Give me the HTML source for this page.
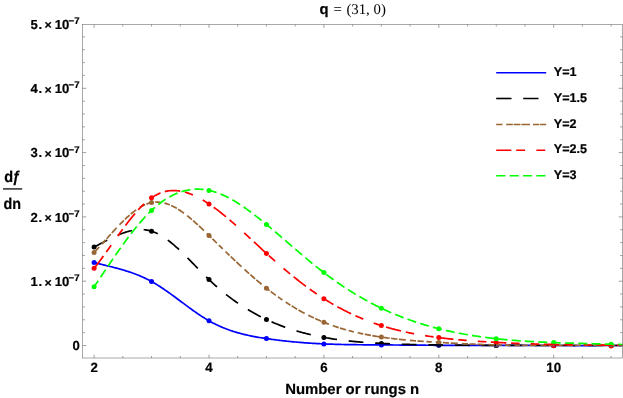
<!DOCTYPE html>
<html><head><meta charset="utf-8"><title>plot</title>
<style>
html,body{margin:0;padding:0;background:#fff;}
body{width:623px;height:398px;overflow:hidden;font-family:"Liberation Sans",sans-serif;}
svg{display:block;position:absolute;left:0;top:0;}
text{font-family:"Liberation Sans",sans-serif;font-weight:bold;fill:#000;text-rendering:geometricPrecision;stroke:#000;stroke-width:0.2px;}
.ser{font-family:"Liberation Serif",serif;font-weight:normal;stroke:none;}
</style></head><body>
<svg width="623" height="398" viewBox="0 0 623 398">
<rect x="0" y="0" width="623" height="398" fill="#fff"/>

<g fill="#0000ff">
<circle cx="94.10" cy="262.50" r="2.5"/>
<circle cx="151.55" cy="281.50" r="2.5"/>
<circle cx="209.00" cy="320.80" r="2.5"/>
<circle cx="266.45" cy="338.60" r="2.5"/>
<circle cx="323.90" cy="343.90" r="2.5"/>
<circle cx="381.35" cy="344.90" r="2.5"/>
<circle cx="438.80" cy="345.30" r="2.5"/>
<circle cx="496.25" cy="345.40" r="2.5"/>
<circle cx="553.70" cy="345.50" r="2.5"/>
<circle cx="611.15" cy="345.50" r="2.5"/>
</g>
<g fill="#000000">
<circle cx="94.10" cy="247.00" r="2.5"/>
<circle cx="151.55" cy="231.20" r="2.5"/>
<circle cx="209.00" cy="279.60" r="2.5"/>
<circle cx="266.45" cy="319.50" r="2.5"/>
<circle cx="323.90" cy="337.40" r="2.5"/>
<circle cx="381.35" cy="343.40" r="2.5"/>
<circle cx="438.80" cy="345.00" r="2.5"/>
<circle cx="496.25" cy="345.40" r="2.5"/>
<circle cx="553.70" cy="345.50" r="2.5"/>
<circle cx="611.15" cy="345.50" r="2.5"/>
</g>
<g fill="#996633">
<circle cx="94.10" cy="252.50" r="2.5"/>
<circle cx="151.55" cy="202.60" r="2.5"/>
<circle cx="209.00" cy="235.50" r="2.5"/>
<circle cx="266.45" cy="288.20" r="2.5"/>
<circle cx="323.90" cy="322.30" r="2.5"/>
<circle cx="381.35" cy="337.10" r="2.5"/>
<circle cx="438.80" cy="342.40" r="2.5"/>
<circle cx="496.25" cy="344.90" r="2.5"/>
<circle cx="553.70" cy="345.30" r="2.5"/>
<circle cx="611.15" cy="345.40" r="2.5"/>
</g>
<g fill="#ff0000">
<circle cx="94.10" cy="268.30" r="2.5"/>
<circle cx="151.55" cy="197.80" r="2.5"/>
<circle cx="209.00" cy="204.00" r="2.5"/>
<circle cx="266.45" cy="253.40" r="2.5"/>
<circle cx="323.90" cy="298.70" r="2.5"/>
<circle cx="381.35" cy="325.60" r="2.5"/>
<circle cx="438.80" cy="337.60" r="2.5"/>
<circle cx="496.25" cy="342.40" r="2.5"/>
<circle cx="553.70" cy="345.80" r="2.5"/>
<circle cx="611.15" cy="346.10" r="2.5"/>
</g>
<g fill="#00ff00">
<circle cx="94.10" cy="286.80" r="2.5"/>
<circle cx="151.55" cy="210.40" r="2.5"/>
<circle cx="209.00" cy="190.40" r="2.5"/>
<circle cx="266.45" cy="224.50" r="2.5"/>
<circle cx="323.90" cy="272.60" r="2.5"/>
<circle cx="381.35" cy="308.20" r="2.5"/>
<circle cx="438.80" cy="328.70" r="2.5"/>
<circle cx="496.25" cy="338.70" r="2.5"/>
<circle cx="553.70" cy="342.60" r="2.5"/>
<circle cx="611.15" cy="344.20" r="2.5"/>
</g>
<g fill="none" stroke-width="1.7" stroke-linejoin="round">
<path d="M94.10,262.50 L95.42,262.84 L96.75,263.18 L98.07,263.52 L99.40,263.85 L100.72,264.18 L102.05,264.51 L103.37,264.83 L104.69,265.16 L106.02,265.48 L107.34,265.81 L108.67,266.14 L109.99,266.47 L111.32,266.80 L112.64,267.14 L113.96,267.48 L115.29,267.82 L116.61,268.17 L117.94,268.53 L119.26,268.89 L120.59,269.26 L121.91,269.63 L123.23,270.02 L124.56,270.42 L125.88,270.82 L127.21,271.23 L128.53,271.66 L129.86,272.10 L131.18,272.55 L132.51,273.01 L133.83,273.49 L135.15,273.98 L136.48,274.49 L137.80,275.01 L139.13,275.55 L140.45,276.10 L141.78,276.67 L143.10,277.26 L144.42,277.87 L145.75,278.50 L147.07,279.15 L148.40,279.82 L149.72,280.51 L151.05,281.22 L152.37,281.96 L153.69,282.72 L155.02,283.49 L156.34,284.29 L157.67,285.11 L158.99,285.95 L160.32,286.80 L161.64,287.67 L162.96,288.56 L164.29,289.46 L165.61,290.37 L166.94,291.29 L168.26,292.23 L169.59,293.17 L170.91,294.12 L172.23,295.09 L173.56,296.05 L174.88,297.03 L176.21,298.01 L177.53,298.99 L178.86,299.97 L180.18,300.96 L181.50,301.95 L182.83,302.93 L184.15,303.92 L185.48,304.90 L186.80,305.88 L188.13,306.85 L189.45,307.82 L190.77,308.79 L192.10,309.74 L193.42,310.69 L194.75,311.62 L196.07,312.55 L197.40,313.46 L198.72,314.36 L200.04,315.25 L201.37,316.12 L202.69,316.98 L204.02,317.81 L205.34,318.63 L206.67,319.44 L207.99,320.22 L209.32,320.98 L210.64,321.72 L211.96,322.44 L213.29,323.13 L214.61,323.81 L215.94,324.46 L217.26,325.10 L218.59,325.72 L219.91,326.31 L221.23,326.89 L222.56,327.46 L223.88,328.00 L225.21,328.53 L226.53,329.04 L227.86,329.53 L229.18,330.01 L230.50,330.47 L231.83,330.91 L233.15,331.35 L234.48,331.76 L235.80,332.17 L237.13,332.56 L238.45,332.93 L239.77,333.30 L241.10,333.65 L242.42,333.99 L243.75,334.32 L245.07,334.64 L246.40,334.95 L247.72,335.24 L249.04,335.53 L250.37,335.81 L251.69,336.08 L253.02,336.34 L254.34,336.59 L255.67,336.84 L256.99,337.08 L258.31,337.31 L259.64,337.53 L260.96,337.75 L262.29,337.96 L263.61,338.17 L264.94,338.37 L266.26,338.57 L267.58,338.77 L268.91,338.96 L270.23,339.14 L271.56,339.33 L272.88,339.51 L274.21,339.68 L275.53,339.86 L276.85,340.02 L278.18,340.19 L279.50,340.35 L280.83,340.51 L282.15,340.66 L283.48,340.81 L284.80,340.96 L286.13,341.11 L287.45,341.25 L288.77,341.38 L290.10,341.52 L291.42,341.65 L292.75,341.78 L294.07,341.90 L295.40,342.02 L296.72,342.14 L298.04,342.25 L299.37,342.36 L300.69,342.47 L302.02,342.58 L303.34,342.68 L304.67,342.78 L305.99,342.87 L307.31,342.97 L308.64,343.06 L309.96,343.15 L311.29,343.23 L312.61,343.31 L313.94,343.39 L315.26,343.47 L316.58,343.54 L317.91,343.61 L319.23,343.68 L320.56,343.75 L321.88,343.81 L323.21,343.87 L324.53,343.93 L325.85,343.98 L327.18,344.04 L328.50,344.09 L329.83,344.13 L331.15,344.18 L332.48,344.22 L333.80,344.27 L335.12,344.31 L336.45,344.34 L337.77,344.38 L339.10,344.41 L340.42,344.45 L341.75,344.48 L343.07,344.51 L344.39,344.53 L345.72,344.56 L347.04,344.58 L348.37,344.60 L349.69,344.63 L351.02,344.65 L352.34,344.67 L353.66,344.68 L354.99,344.70 L356.31,344.72 L357.64,344.73 L358.96,344.74 L360.29,344.76 L361.61,344.77 L362.94,344.78 L364.26,344.79 L365.58,344.80 L366.91,344.81 L368.23,344.82 L369.56,344.83 L370.88,344.84 L372.21,344.85 L373.53,344.85 L374.85,344.86 L376.18,344.87 L377.50,344.88 L378.83,344.88 L380.15,344.89 L381.48,344.90 L382.80,344.91 L384.12,344.92 L385.45,344.93 L386.77,344.94 L388.10,344.94 L389.42,344.95 L390.75,344.96 L392.07,344.97 L393.39,344.98 L394.72,344.99 L396.04,345.00 L397.37,345.01 L398.69,345.02 L400.02,345.03 L401.34,345.04 L402.66,345.05 L403.99,345.06 L405.31,345.07 L406.64,345.08 L407.96,345.09 L409.29,345.10 L410.61,345.11 L411.93,345.12 L413.26,345.13 L414.58,345.14 L415.91,345.15 L417.23,345.16 L418.56,345.17 L419.88,345.18 L421.20,345.19 L422.53,345.20 L423.85,345.21 L425.18,345.22 L426.50,345.23 L427.83,345.24 L429.15,345.25 L430.47,345.25 L431.80,345.26 L433.12,345.27 L434.45,345.28 L435.77,345.28 L437.10,345.29 L438.42,345.30 L439.75,345.30 L441.07,345.31 L442.39,345.32 L443.72,345.32 L445.04,345.33 L446.37,345.33 L447.69,345.34 L449.02,345.34 L450.34,345.34 L451.66,345.35 L452.99,345.35 L454.31,345.35 L455.64,345.36 L456.96,345.36 L458.29,345.36 L459.61,345.37 L460.93,345.37 L462.26,345.37 L463.58,345.37 L464.91,345.37 L466.23,345.38 L467.56,345.38 L468.88,345.38 L470.20,345.38 L471.53,345.38 L472.85,345.38 L474.18,345.38 L475.50,345.38 L476.83,345.39 L478.15,345.39 L479.47,345.39 L480.80,345.39 L482.12,345.39 L483.45,345.39 L484.77,345.39 L486.10,345.39 L487.42,345.39 L488.74,345.39 L490.07,345.39 L491.39,345.40 L492.72,345.40 L494.04,345.40 L495.37,345.40 L496.69,345.40 L498.01,345.40 L499.34,345.40 L500.66,345.40 L501.99,345.41 L503.31,345.41 L504.64,345.41 L505.96,345.41 L507.28,345.41 L508.61,345.42 L509.93,345.42 L511.26,345.42 L512.58,345.42 L513.91,345.42 L515.23,345.43 L516.56,345.43 L517.88,345.43 L519.20,345.43 L520.53,345.44 L521.85,345.44 L523.18,345.44 L524.50,345.44 L525.83,345.45 L527.15,345.45 L528.47,345.45 L529.80,345.45 L531.12,345.46 L532.45,345.46 L533.77,345.46 L535.10,345.47 L536.42,345.47 L537.74,345.47 L539.07,345.47 L540.39,345.48 L541.72,345.48 L543.04,345.48 L544.37,345.48 L545.69,345.49 L547.01,345.49 L548.34,345.49 L549.66,345.49 L550.99,345.50 L552.31,345.50 L553.64,345.50 L554.96,345.50 L556.28,345.50 L557.61,345.51 L558.93,345.51 L560.26,345.51 L561.58,345.51 L562.91,345.51 L564.23,345.52 L565.55,345.52 L566.88,345.52 L568.20,345.52 L569.53,345.52 L570.85,345.52 L572.18,345.52 L573.50,345.53 L574.82,345.53 L576.15,345.53 L577.47,345.53 L578.80,345.53 L580.12,345.53 L581.45,345.53 L582.77,345.53 L584.09,345.53 L585.42,345.53 L586.74,345.53 L588.07,345.53 L589.39,345.53 L590.72,345.53 L592.04,345.53 L593.37,345.53 L594.69,345.53 L596.01,345.53 L597.34,345.52 L598.66,345.52 L599.99,345.52 L601.31,345.52 L602.64,345.52 L603.96,345.51 L605.28,345.51 L606.61,345.51 L607.93,345.51 L609.26,345.50 L610.58,345.50 L611.91,345.50 L613.23,345.49 L614.55,345.49 L615.88,345.49 L617.20,345.48 L618.53,345.48 L619.85,345.47 L621.18,345.47 L622.50,345.46" stroke="#0000ff"/>
<path d="M94.10,247.00 L95.42,246.32 L96.75,245.64 L98.07,244.95 L99.40,244.26 L100.72,243.57 L102.05,242.88 L103.37,242.19 L104.69,241.51 L106.02,240.82 L107.34,240.15 L108.67,239.48 L109.99,238.82 L111.32,238.17 L112.64,237.53 L113.96,236.91 L115.29,236.30 L116.61,235.71 L117.94,235.14 L119.26,234.58 L120.59,234.05 L121.91,233.54 L123.23,233.05 L124.56,232.59 L125.88,232.16 L127.21,231.75 L128.53,231.38 L129.86,231.03 L131.18,230.72 L132.51,230.45 L133.83,230.21 L135.15,230.00 L136.48,229.84 L137.80,229.72 L139.13,229.64 L140.45,229.60 L141.78,229.61 L143.10,229.66 L144.42,229.76 L145.75,229.91 L147.07,230.12 L148.40,230.37 L149.72,230.68 L151.05,231.05 L152.37,231.47 L153.69,231.95 L155.02,232.48 L156.34,233.07 L157.67,233.70 L158.99,234.39 L160.32,235.12 L161.64,235.91 L162.96,236.73 L164.29,237.60 L165.61,238.51 L166.94,239.45 L168.26,240.44 L169.59,241.46 L170.91,242.51 L172.23,243.60 L173.56,244.71 L174.88,245.86 L176.21,247.03 L177.53,248.23 L178.86,249.45 L180.18,250.69 L181.50,251.95 L182.83,253.23 L184.15,254.52 L185.48,255.83 L186.80,257.16 L188.13,258.49 L189.45,259.83 L190.77,261.18 L192.10,262.54 L193.42,263.90 L194.75,265.26 L196.07,266.63 L197.40,267.99 L198.72,269.35 L200.04,270.70 L201.37,272.05 L202.69,273.39 L204.02,274.72 L205.34,276.04 L206.67,277.34 L207.99,278.63 L209.32,279.90 L210.64,281.15 L211.96,282.39 L213.29,283.61 L214.61,284.81 L215.94,285.99 L217.26,287.15 L218.59,288.30 L219.91,289.43 L221.23,290.55 L222.56,291.64 L223.88,292.72 L225.21,293.79 L226.53,294.83 L227.86,295.86 L229.18,296.88 L230.50,297.88 L231.83,298.86 L233.15,299.83 L234.48,300.78 L235.80,301.71 L237.13,302.64 L238.45,303.54 L239.77,304.43 L241.10,305.31 L242.42,306.17 L243.75,307.02 L245.07,307.86 L246.40,308.68 L247.72,309.48 L249.04,310.28 L250.37,311.06 L251.69,311.82 L253.02,312.57 L254.34,313.31 L255.67,314.04 L256.99,314.75 L258.31,315.46 L259.64,316.15 L260.96,316.82 L262.29,317.49 L263.61,318.14 L264.94,318.78 L266.26,319.41 L267.58,320.03 L268.91,320.64 L270.23,321.23 L271.56,321.82 L272.88,322.39 L274.21,322.95 L275.53,323.50 L276.85,324.05 L278.18,324.58 L279.50,325.10 L280.83,325.61 L282.15,326.11 L283.48,326.60 L284.80,327.08 L286.13,327.55 L287.45,328.01 L288.77,328.46 L290.10,328.91 L291.42,329.34 L292.75,329.76 L294.07,330.18 L295.40,330.58 L296.72,330.98 L298.04,331.37 L299.37,331.75 L300.69,332.12 L302.02,332.49 L303.34,332.84 L304.67,333.19 L305.99,333.53 L307.31,333.86 L308.64,334.18 L309.96,334.50 L311.29,334.81 L312.61,335.11 L313.94,335.40 L315.26,335.69 L316.58,335.97 L317.91,336.25 L319.23,336.51 L320.56,336.77 L321.88,337.03 L323.21,337.27 L324.53,337.51 L325.85,337.75 L327.18,337.98 L328.50,338.20 L329.83,338.42 L331.15,338.63 L332.48,338.84 L333.80,339.04 L335.12,339.23 L336.45,339.42 L337.77,339.60 L339.10,339.78 L340.42,339.96 L341.75,340.13 L343.07,340.29 L344.39,340.45 L345.72,340.61 L347.04,340.76 L348.37,340.90 L349.69,341.04 L351.02,341.18 L352.34,341.31 L353.66,341.44 L354.99,341.57 L356.31,341.69 L357.64,341.81 L358.96,341.92 L360.29,342.03 L361.61,342.14 L362.94,342.25 L364.26,342.35 L365.58,342.44 L366.91,342.54 L368.23,342.63 L369.56,342.72 L370.88,342.80 L372.21,342.89 L373.53,342.97 L374.85,343.05 L376.18,343.12 L377.50,343.20 L378.83,343.27 L380.15,343.34 L381.48,343.41 L382.80,343.47 L384.12,343.54 L385.45,343.60 L386.77,343.66 L388.10,343.72 L389.42,343.78 L390.75,343.83 L392.07,343.88 L393.39,343.94 L394.72,343.99 L396.04,344.04 L397.37,344.08 L398.69,344.13 L400.02,344.18 L401.34,344.22 L402.66,344.26 L403.99,344.30 L405.31,344.34 L406.64,344.38 L407.96,344.42 L409.29,344.45 L410.61,344.49 L411.93,344.52 L413.26,344.55 L414.58,344.58 L415.91,344.61 L417.23,344.64 L418.56,344.67 L419.88,344.70 L421.20,344.72 L422.53,344.75 L423.85,344.77 L425.18,344.80 L426.50,344.82 L427.83,344.84 L429.15,344.86 L430.47,344.88 L431.80,344.90 L433.12,344.92 L434.45,344.94 L435.77,344.96 L437.10,344.98 L438.42,345.00 L439.75,345.01 L441.07,345.03 L442.39,345.04 L443.72,345.06 L445.04,345.07 L446.37,345.09 L447.69,345.10 L449.02,345.12 L450.34,345.13 L451.66,345.14 L452.99,345.15 L454.31,345.17 L455.64,345.18 L456.96,345.19 L458.29,345.20 L459.61,345.21 L460.93,345.22 L462.26,345.23 L463.58,345.24 L464.91,345.25 L466.23,345.26 L467.56,345.27 L468.88,345.28 L470.20,345.28 L471.53,345.29 L472.85,345.30 L474.18,345.31 L475.50,345.31 L476.83,345.32 L478.15,345.33 L479.47,345.33 L480.80,345.34 L482.12,345.35 L483.45,345.35 L484.77,345.36 L486.10,345.36 L487.42,345.37 L488.74,345.37 L490.07,345.38 L491.39,345.38 L492.72,345.39 L494.04,345.39 L495.37,345.40 L496.69,345.40 L498.01,345.41 L499.34,345.41 L500.66,345.41 L501.99,345.42 L503.31,345.42 L504.64,345.42 L505.96,345.43 L507.28,345.43 L508.61,345.44 L509.93,345.44 L511.26,345.44 L512.58,345.44 L513.91,345.45 L515.23,345.45 L516.56,345.45 L517.88,345.46 L519.20,345.46 L520.53,345.46 L521.85,345.46 L523.18,345.47 L524.50,345.47 L525.83,345.47 L527.15,345.47 L528.47,345.47 L529.80,345.48 L531.12,345.48 L532.45,345.48 L533.77,345.48 L535.10,345.48 L536.42,345.49 L537.74,345.49 L539.07,345.49 L540.39,345.49 L541.72,345.49 L543.04,345.49 L544.37,345.49 L545.69,345.49 L547.01,345.50 L548.34,345.50 L549.66,345.50 L550.99,345.50 L552.31,345.50 L553.64,345.50 L554.96,345.50 L556.28,345.50 L557.61,345.50 L558.93,345.50 L560.26,345.50 L561.58,345.50 L562.91,345.50 L564.23,345.50 L565.55,345.50 L566.88,345.51 L568.20,345.51 L569.53,345.51 L570.85,345.51 L572.18,345.51 L573.50,345.51 L574.82,345.51 L576.15,345.51 L577.47,345.51 L578.80,345.51 L580.12,345.51 L581.45,345.51 L582.77,345.51 L584.09,345.51 L585.42,345.51 L586.74,345.51 L588.07,345.51 L589.39,345.51 L590.72,345.50 L592.04,345.50 L593.37,345.50 L594.69,345.50 L596.01,345.50 L597.34,345.50 L598.66,345.50 L599.99,345.50 L601.31,345.50 L602.64,345.50 L603.96,345.50 L605.28,345.50 L606.61,345.50 L607.93,345.50 L609.26,345.50 L610.58,345.50 L611.91,345.50 L613.23,345.50 L614.55,345.50 L615.88,345.50 L617.20,345.50 L618.53,345.50 L619.85,345.50 L621.18,345.50 L622.50,345.50" stroke="#000000" stroke-dasharray="14.8 11.8"/>
<path d="M94.10,252.50 L95.42,251.09 L96.75,249.67 L98.07,248.23 L99.40,246.78 L100.72,245.32 L102.05,243.86 L103.37,242.38 L104.69,240.91 L106.02,239.43 L107.34,237.95 L108.67,236.48 L109.99,235.01 L111.32,233.54 L112.64,232.09 L113.96,230.64 L115.29,229.21 L116.61,227.79 L117.94,226.39 L119.26,225.01 L120.59,223.65 L121.91,222.31 L123.23,221.00 L124.56,219.71 L125.88,218.45 L127.21,217.22 L128.53,216.03 L129.86,214.87 L131.18,213.74 L132.51,212.66 L133.83,211.62 L135.15,210.62 L136.48,209.66 L137.80,208.75 L139.13,207.89 L140.45,207.09 L141.78,206.33 L143.10,205.63 L144.42,204.99 L145.75,204.41 L147.07,203.88 L148.40,203.43 L149.72,203.03 L151.05,202.71 L152.37,202.45 L153.69,202.26 L155.02,202.14 L156.34,202.09 L157.67,202.10 L158.99,202.17 L160.32,202.30 L161.64,202.50 L162.96,202.75 L164.29,203.06 L165.61,203.42 L166.94,203.84 L168.26,204.30 L169.59,204.82 L170.91,205.39 L172.23,206.00 L173.56,206.66 L174.88,207.36 L176.21,208.11 L177.53,208.89 L178.86,209.72 L180.18,210.58 L181.50,211.48 L182.83,212.41 L184.15,213.38 L185.48,214.37 L186.80,215.40 L188.13,216.45 L189.45,217.53 L190.77,218.63 L192.10,219.76 L193.42,220.91 L194.75,222.08 L196.07,223.27 L197.40,224.47 L198.72,225.69 L200.04,226.92 L201.37,228.17 L202.69,229.43 L204.02,230.69 L205.34,231.96 L206.67,233.24 L207.99,234.52 L209.32,235.81 L210.64,237.09 L211.96,238.38 L213.29,239.67 L214.61,240.95 L215.94,242.24 L217.26,243.53 L218.59,244.81 L219.91,246.10 L221.23,247.39 L222.56,248.67 L223.88,249.95 L225.21,251.23 L226.53,252.50 L227.86,253.78 L229.18,255.05 L230.50,256.31 L231.83,257.58 L233.15,258.84 L234.48,260.09 L235.80,261.34 L237.13,262.59 L238.45,263.83 L239.77,265.06 L241.10,266.29 L242.42,267.51 L243.75,268.72 L245.07,269.93 L246.40,271.13 L247.72,272.32 L249.04,273.51 L250.37,274.69 L251.69,275.85 L253.02,277.01 L254.34,278.16 L255.67,279.30 L256.99,280.43 L258.31,281.56 L259.64,282.67 L260.96,283.77 L262.29,284.85 L263.61,285.93 L264.94,287.00 L266.26,288.05 L267.58,289.09 L268.91,290.12 L270.23,291.14 L271.56,292.14 L272.88,293.13 L274.21,294.11 L275.53,295.08 L276.85,296.04 L278.18,296.98 L279.50,297.91 L280.83,298.83 L282.15,299.73 L283.48,300.63 L284.80,301.51 L286.13,302.38 L287.45,303.24 L288.77,304.09 L290.10,304.92 L291.42,305.75 L292.75,306.56 L294.07,307.36 L295.40,308.15 L296.72,308.92 L298.04,309.69 L299.37,310.44 L300.69,311.18 L302.02,311.91 L303.34,312.63 L304.67,313.33 L305.99,314.03 L307.31,314.71 L308.64,315.38 L309.96,316.04 L311.29,316.69 L312.61,317.33 L313.94,317.95 L315.26,318.57 L316.58,319.17 L317.91,319.76 L319.23,320.34 L320.56,320.91 L321.88,321.47 L323.21,322.02 L324.53,322.55 L325.85,323.08 L327.18,323.59 L328.50,324.10 L329.83,324.59 L331.15,325.07 L332.48,325.54 L333.80,326.00 L335.12,326.45 L336.45,326.90 L337.77,327.33 L339.10,327.75 L340.42,328.16 L341.75,328.57 L343.07,328.96 L344.39,329.35 L345.72,329.72 L347.04,330.09 L348.37,330.45 L349.69,330.80 L351.02,331.15 L352.34,331.48 L353.66,331.81 L354.99,332.13 L356.31,332.44 L357.64,332.74 L358.96,333.04 L360.29,333.33 L361.61,333.61 L362.94,333.89 L364.26,334.16 L365.58,334.42 L366.91,334.68 L368.23,334.93 L369.56,335.17 L370.88,335.41 L372.21,335.64 L373.53,335.87 L374.85,336.09 L376.18,336.31 L377.50,336.52 L378.83,336.72 L380.15,336.92 L381.48,337.12 L382.80,337.31 L384.12,337.50 L385.45,337.68 L386.77,337.86 L388.10,338.03 L389.42,338.20 L390.75,338.37 L392.07,338.53 L393.39,338.68 L394.72,338.84 L396.04,338.99 L397.37,339.14 L398.69,339.28 L400.02,339.42 L401.34,339.55 L402.66,339.69 L403.99,339.82 L405.31,339.94 L406.64,340.07 L407.96,340.19 L409.29,340.31 L410.61,340.42 L411.93,340.54 L413.26,340.65 L414.58,340.75 L415.91,340.86 L417.23,340.96 L418.56,341.06 L419.88,341.16 L421.20,341.26 L422.53,341.35 L423.85,341.45 L425.18,341.54 L426.50,341.63 L427.83,341.72 L429.15,341.80 L430.47,341.89 L431.80,341.97 L433.12,342.06 L434.45,342.14 L435.77,342.22 L437.10,342.30 L438.42,342.38 L439.75,342.46 L441.07,342.53 L442.39,342.61 L443.72,342.69 L445.04,342.76 L446.37,342.84 L447.69,342.91 L449.02,342.98 L450.34,343.05 L451.66,343.13 L452.99,343.20 L454.31,343.27 L455.64,343.33 L456.96,343.40 L458.29,343.47 L459.61,343.53 L460.93,343.60 L462.26,343.66 L463.58,343.73 L464.91,343.79 L466.23,343.85 L467.56,343.91 L468.88,343.97 L470.20,344.02 L471.53,344.08 L472.85,344.13 L474.18,344.19 L475.50,344.24 L476.83,344.29 L478.15,344.34 L479.47,344.39 L480.80,344.44 L482.12,344.49 L483.45,344.53 L484.77,344.57 L486.10,344.62 L487.42,344.66 L488.74,344.70 L490.07,344.74 L491.39,344.78 L492.72,344.81 L494.04,344.85 L495.37,344.88 L496.69,344.91 L498.01,344.94 L499.34,344.97 L500.66,345.00 L501.99,345.02 L503.31,345.05 L504.64,345.07 L505.96,345.09 L507.28,345.11 L508.61,345.13 L509.93,345.15 L511.26,345.17 L512.58,345.19 L513.91,345.20 L515.23,345.22 L516.56,345.23 L517.88,345.24 L519.20,345.25 L520.53,345.26 L521.85,345.27 L523.18,345.28 L524.50,345.29 L525.83,345.29 L527.15,345.30 L528.47,345.31 L529.80,345.31 L531.12,345.31 L532.45,345.32 L533.77,345.32 L535.10,345.32 L536.42,345.32 L537.74,345.32 L539.07,345.32 L540.39,345.32 L541.72,345.32 L543.04,345.32 L544.37,345.32 L545.69,345.32 L547.01,345.32 L548.34,345.31 L549.66,345.31 L550.99,345.31 L552.31,345.30 L553.64,345.30 L554.96,345.30 L556.28,345.29 L557.61,345.29 L558.93,345.28 L560.26,345.28 L561.58,345.28 L562.91,345.27 L564.23,345.27 L565.55,345.26 L566.88,345.26 L568.20,345.26 L569.53,345.25 L570.85,345.25 L572.18,345.25 L573.50,345.24 L574.82,345.24 L576.15,345.24 L577.47,345.24 L578.80,345.24 L580.12,345.24 L581.45,345.24 L582.77,345.24 L584.09,345.24 L585.42,345.24 L586.74,345.24 L588.07,345.24 L589.39,345.24 L590.72,345.25 L592.04,345.25 L593.37,345.25 L594.69,345.26 L596.01,345.27 L597.34,345.27 L598.66,345.28 L599.99,345.29 L601.31,345.30 L602.64,345.31 L603.96,345.32 L605.28,345.33 L606.61,345.35 L607.93,345.36 L609.26,345.38 L610.58,345.39 L611.91,345.41 L613.23,345.43 L614.55,345.45 L615.88,345.47 L617.20,345.49 L618.53,345.52 L619.85,345.54 L621.18,345.57 L622.50,345.60" stroke="#996633" stroke-dasharray="5.4 3.9 5.7 1.5 6.3 1.5 7.1 4.1 6.2 1.5 6.4 1.5 6.9 4.1 6.2 1.4 6.3 2.7" stroke-dashoffset="76.6"/>
<path d="M94.10,268.30 L95.42,266.62 L96.75,264.92 L98.07,263.19 L99.40,261.43 L100.72,259.66 L102.05,257.87 L103.37,256.06 L104.69,254.24 L106.02,252.40 L107.34,250.56 L108.67,248.71 L109.99,246.85 L111.32,244.99 L112.64,243.13 L113.96,241.27 L115.29,239.41 L116.61,237.56 L117.94,235.71 L119.26,233.88 L120.59,232.05 L121.91,230.24 L123.23,228.45 L124.56,226.67 L125.88,224.91 L127.21,223.18 L128.53,221.47 L129.86,219.78 L131.18,218.12 L132.51,216.50 L133.83,214.91 L135.15,213.35 L136.48,211.83 L137.80,210.35 L139.13,208.91 L140.45,207.51 L141.78,206.16 L143.10,204.86 L144.42,203.60 L145.75,202.40 L147.07,201.25 L148.40,200.16 L149.72,199.13 L151.05,198.15 L152.37,197.24 L153.69,196.40 L155.02,195.61 L156.34,194.89 L157.67,194.22 L158.99,193.61 L160.32,193.06 L161.64,192.57 L162.96,192.14 L164.29,191.75 L165.61,191.43 L166.94,191.15 L168.26,190.93 L169.59,190.76 L170.91,190.63 L172.23,190.56 L173.56,190.53 L174.88,190.55 L176.21,190.62 L177.53,190.73 L178.86,190.89 L180.18,191.08 L181.50,191.32 L182.83,191.60 L184.15,191.92 L185.48,192.28 L186.80,192.68 L188.13,193.11 L189.45,193.58 L190.77,194.08 L192.10,194.62 L193.42,195.19 L194.75,195.79 L196.07,196.42 L197.40,197.08 L198.72,197.77 L200.04,198.49 L201.37,199.24 L202.69,200.01 L204.02,200.80 L205.34,201.62 L206.67,202.46 L207.99,203.33 L209.32,204.21 L210.64,205.12 L211.96,206.04 L213.29,206.98 L214.61,207.94 L215.94,208.92 L217.26,209.91 L218.59,210.92 L219.91,211.95 L221.23,212.99 L222.56,214.05 L223.88,215.12 L225.21,216.20 L226.53,217.30 L227.86,218.41 L229.18,219.53 L230.50,220.66 L231.83,221.80 L233.15,222.95 L234.48,224.11 L235.80,225.28 L237.13,226.46 L238.45,227.64 L239.77,228.84 L241.10,230.03 L242.42,231.24 L243.75,232.45 L245.07,233.66 L246.40,234.88 L247.72,236.10 L249.04,237.32 L250.37,238.55 L251.69,239.78 L253.02,241.01 L254.34,242.24 L255.67,243.47 L256.99,244.69 L258.31,245.92 L259.64,247.15 L260.96,248.37 L262.29,249.59 L263.61,250.81 L264.94,252.02 L266.26,253.23 L267.58,254.43 L268.91,255.63 L270.23,256.82 L271.56,258.00 L272.88,259.18 L274.21,260.36 L275.53,261.52 L276.85,262.68 L278.18,263.84 L279.50,264.98 L280.83,266.13 L282.15,267.26 L283.48,268.39 L284.80,269.51 L286.13,270.62 L287.45,271.72 L288.77,272.82 L290.10,273.91 L291.42,274.99 L292.75,276.07 L294.07,277.13 L295.40,278.19 L296.72,279.24 L298.04,280.28 L299.37,281.31 L300.69,282.33 L302.02,283.35 L303.34,284.35 L304.67,285.35 L305.99,286.34 L307.31,287.31 L308.64,288.28 L309.96,289.24 L311.29,290.19 L312.61,291.13 L313.94,292.05 L315.26,292.97 L316.58,293.88 L317.91,294.78 L319.23,295.66 L320.56,296.54 L321.88,297.40 L323.21,298.26 L324.53,299.10 L325.85,299.93 L327.18,300.75 L328.50,301.56 L329.83,302.36 L331.15,303.14 L332.48,303.92 L333.80,304.69 L335.12,305.44 L336.45,306.18 L337.77,306.92 L339.10,307.64 L340.42,308.35 L341.75,309.06 L343.07,309.75 L344.39,310.43 L345.72,311.10 L347.04,311.76 L348.37,312.41 L349.69,313.05 L351.02,313.69 L352.34,314.31 L353.66,314.92 L354.99,315.52 L356.31,316.11 L357.64,316.70 L358.96,317.27 L360.29,317.83 L361.61,318.39 L362.94,318.93 L364.26,319.47 L365.58,320.00 L366.91,320.52 L368.23,321.03 L369.56,321.53 L370.88,322.02 L372.21,322.50 L373.53,322.97 L374.85,323.44 L376.18,323.90 L377.50,324.34 L378.83,324.78 L380.15,325.22 L381.48,325.64 L382.80,326.05 L384.12,326.46 L385.45,326.86 L386.77,327.25 L388.10,327.64 L389.42,328.01 L390.75,328.38 L392.07,328.74 L393.39,329.09 L394.72,329.44 L396.04,329.78 L397.37,330.11 L398.69,330.44 L400.02,330.76 L401.34,331.07 L402.66,331.37 L403.99,331.67 L405.31,331.97 L406.64,332.25 L407.96,332.53 L409.29,332.81 L410.61,333.07 L411.93,333.34 L413.26,333.59 L414.58,333.85 L415.91,334.09 L417.23,334.33 L418.56,334.57 L419.88,334.80 L421.20,335.02 L422.53,335.25 L423.85,335.46 L425.18,335.67 L426.50,335.88 L427.83,336.08 L429.15,336.28 L430.47,336.47 L431.80,336.66 L433.12,336.85 L434.45,337.03 L435.77,337.21 L437.10,337.38 L438.42,337.55 L439.75,337.72 L441.07,337.88 L442.39,338.04 L443.72,338.20 L445.04,338.35 L446.37,338.51 L447.69,338.65 L449.02,338.80 L450.34,338.94 L451.66,339.08 L452.99,339.21 L454.31,339.35 L455.64,339.48 L456.96,339.61 L458.29,339.73 L459.61,339.85 L460.93,339.97 L462.26,340.09 L463.58,340.20 L464.91,340.32 L466.23,340.43 L467.56,340.53 L468.88,340.64 L470.20,340.74 L471.53,340.84 L472.85,340.94 L474.18,341.04 L475.50,341.13 L476.83,341.23 L478.15,341.32 L479.47,341.41 L480.80,341.49 L482.12,341.58 L483.45,341.66 L484.77,341.75 L486.10,341.83 L487.42,341.91 L488.74,341.98 L490.07,342.06 L491.39,342.14 L492.72,342.21 L494.04,342.28 L495.37,342.35 L496.69,342.42 L498.01,342.49 L499.34,342.56 L500.66,342.63 L501.99,342.69 L503.31,342.76 L504.64,342.82 L505.96,342.88 L507.28,342.95 L508.61,343.01 L509.93,343.07 L511.26,343.13 L512.58,343.18 L513.91,343.24 L515.23,343.29 L516.56,343.35 L517.88,343.40 L519.20,343.46 L520.53,343.51 L521.85,343.56 L523.18,343.61 L524.50,343.66 L525.83,343.70 L527.15,343.75 L528.47,343.80 L529.80,343.84 L531.12,343.89 L532.45,343.93 L533.77,343.97 L535.10,344.01 L536.42,344.05 L537.74,344.09 L539.07,344.13 L540.39,344.17 L541.72,344.20 L543.04,344.24 L544.37,344.28 L545.69,344.31 L547.01,344.34 L548.34,344.38 L549.66,344.41 L550.99,344.44 L552.31,344.47 L553.64,344.50 L554.96,344.53 L556.28,344.55 L557.61,344.58 L558.93,344.61 L560.26,344.63 L561.58,344.66 L562.91,344.68 L564.23,344.71 L565.55,344.73 L566.88,344.75 L568.20,344.77 L569.53,344.79 L570.85,344.81 L572.18,344.83 L573.50,344.85 L574.82,344.86 L576.15,344.88 L577.47,344.90 L578.80,344.91 L580.12,344.93 L581.45,344.94 L582.77,344.96 L584.09,344.97 L585.42,344.98 L586.74,344.99 L588.07,345.00 L589.39,345.01 L590.72,345.02 L592.04,345.03 L593.37,345.04 L594.69,345.05 L596.01,345.06 L597.34,345.06 L598.66,345.07 L599.99,345.07 L601.31,345.08 L602.64,345.08 L603.96,345.09 L605.28,345.09 L606.61,345.09 L607.93,345.10 L609.26,345.10 L610.58,345.10 L611.91,345.10 L613.23,345.10 L614.55,345.10 L615.88,345.10 L617.20,345.10 L618.53,345.10 L619.85,345.10 L621.18,345.09 L622.50,345.09" stroke="#ff0000" stroke-dasharray="15.5 4.8 8.5 11.1 8.6 4.5"/>
<path d="M94.10,286.80 L95.42,284.85 L96.75,282.89 L98.07,280.93 L99.40,278.96 L100.72,276.99 L102.05,275.02 L103.37,273.06 L104.69,271.09 L106.02,269.12 L107.34,267.16 L108.67,265.20 L109.99,263.25 L111.32,261.30 L112.64,259.36 L113.96,257.43 L115.29,255.51 L116.61,253.60 L117.94,251.70 L119.26,249.81 L120.59,247.94 L121.91,246.08 L123.23,244.23 L124.56,242.40 L125.88,240.59 L127.21,238.80 L128.53,237.03 L129.86,235.27 L131.18,233.54 L132.51,231.84 L133.83,230.15 L135.15,228.49 L136.48,226.86 L137.80,225.25 L139.13,223.67 L140.45,222.12 L141.78,220.60 L143.10,219.11 L144.42,217.65 L145.75,216.23 L147.07,214.84 L148.40,213.48 L149.72,212.16 L151.05,210.88 L152.37,209.63 L153.69,208.43 L155.02,207.26 L156.34,206.13 L157.67,205.04 L158.99,203.98 L160.32,202.96 L161.64,201.99 L162.96,201.04 L164.29,200.14 L165.61,199.27 L166.94,198.44 L168.26,197.65 L169.59,196.89 L170.91,196.17 L172.23,195.48 L173.56,194.83 L174.88,194.22 L176.21,193.64 L177.53,193.10 L178.86,192.60 L180.18,192.13 L181.50,191.69 L182.83,191.29 L184.15,190.93 L185.48,190.60 L186.80,190.31 L188.13,190.05 L189.45,189.82 L190.77,189.63 L192.10,189.47 L193.42,189.35 L194.75,189.26 L196.07,189.20 L197.40,189.18 L198.72,189.19 L200.04,189.24 L201.37,189.31 L202.69,189.42 L204.02,189.57 L205.34,189.74 L206.67,189.95 L207.99,190.19 L209.32,190.47 L210.64,190.77 L211.96,191.11 L213.29,191.48 L214.61,191.88 L215.94,192.30 L217.26,192.76 L218.59,193.24 L219.91,193.76 L221.23,194.30 L222.56,194.86 L223.88,195.45 L225.21,196.07 L226.53,196.71 L227.86,197.38 L229.18,198.06 L230.50,198.78 L231.83,199.51 L233.15,200.27 L234.48,201.04 L235.80,201.84 L237.13,202.65 L238.45,203.49 L239.77,204.34 L241.10,205.21 L242.42,206.10 L243.75,207.01 L245.07,207.93 L246.40,208.87 L247.72,209.82 L249.04,210.78 L250.37,211.76 L251.69,212.75 L253.02,213.76 L254.34,214.78 L255.67,215.80 L256.99,216.84 L258.31,217.89 L259.64,218.94 L260.96,220.01 L262.29,221.08 L263.61,222.16 L264.94,223.25 L266.26,224.34 L267.58,225.44 L268.91,226.55 L270.23,227.65 L271.56,228.77 L272.88,229.89 L274.21,231.01 L275.53,232.13 L276.85,233.26 L278.18,234.39 L279.50,235.52 L280.83,236.66 L282.15,237.79 L283.48,238.93 L284.80,240.07 L286.13,241.21 L287.45,242.35 L288.77,243.49 L290.10,244.63 L291.42,245.77 L292.75,246.91 L294.07,248.05 L295.40,249.19 L296.72,250.32 L298.04,251.45 L299.37,252.58 L300.69,253.71 L302.02,254.83 L303.34,255.95 L304.67,257.06 L305.99,258.17 L307.31,259.28 L308.64,260.38 L309.96,261.48 L311.29,262.57 L312.61,263.65 L313.94,264.73 L315.26,265.80 L316.58,266.86 L317.91,267.92 L319.23,268.97 L320.56,270.01 L321.88,271.04 L323.21,272.07 L324.53,273.08 L325.85,274.09 L327.18,275.08 L328.50,276.07 L329.83,277.05 L331.15,278.02 L332.48,278.98 L333.80,279.93 L335.12,280.87 L336.45,281.80 L337.77,282.73 L339.10,283.64 L340.42,284.55 L341.75,285.44 L343.07,286.33 L344.39,287.21 L345.72,288.08 L347.04,288.94 L348.37,289.79 L349.69,290.63 L351.02,291.47 L352.34,292.29 L353.66,293.11 L354.99,293.92 L356.31,294.72 L357.64,295.51 L358.96,296.29 L360.29,297.06 L361.61,297.82 L362.94,298.58 L364.26,299.33 L365.58,300.07 L366.91,300.80 L368.23,301.52 L369.56,302.23 L370.88,302.93 L372.21,303.63 L373.53,304.32 L374.85,304.99 L376.18,305.66 L377.50,306.33 L378.83,306.98 L380.15,307.62 L381.48,308.26 L382.80,308.89 L384.12,309.51 L385.45,310.12 L386.77,310.72 L388.10,311.32 L389.42,311.91 L390.75,312.48 L392.07,313.06 L393.39,313.62 L394.72,314.18 L396.04,314.72 L397.37,315.26 L398.69,315.80 L400.02,316.32 L401.34,316.84 L402.66,317.35 L403.99,317.86 L405.31,318.35 L406.64,318.84 L407.96,319.32 L409.29,319.80 L410.61,320.27 L411.93,320.73 L413.26,321.18 L414.58,321.63 L415.91,322.07 L417.23,322.50 L418.56,322.93 L419.88,323.35 L421.20,323.77 L422.53,324.18 L423.85,324.58 L425.18,324.97 L426.50,325.36 L427.83,325.75 L429.15,326.12 L430.47,326.50 L431.80,326.86 L433.12,327.22 L434.45,327.58 L435.77,327.92 L437.10,328.27 L438.42,328.60 L439.75,328.94 L441.07,329.26 L442.39,329.58 L443.72,329.90 L445.04,330.21 L446.37,330.51 L447.69,330.81 L449.02,331.11 L450.34,331.40 L451.66,331.68 L452.99,331.96 L454.31,332.24 L455.64,332.51 L456.96,332.77 L458.29,333.03 L459.61,333.29 L460.93,333.54 L462.26,333.78 L463.58,334.03 L464.91,334.26 L466.23,334.50 L467.56,334.72 L468.88,334.95 L470.20,335.17 L471.53,335.38 L472.85,335.60 L474.18,335.80 L475.50,336.01 L476.83,336.21 L478.15,336.40 L479.47,336.59 L480.80,336.78 L482.12,336.96 L483.45,337.14 L484.77,337.32 L486.10,337.49 L487.42,337.66 L488.74,337.83 L490.07,337.99 L491.39,338.15 L492.72,338.30 L494.04,338.45 L495.37,338.60 L496.69,338.75 L498.01,338.89 L499.34,339.03 L500.66,339.17 L501.99,339.30 L503.31,339.43 L504.64,339.56 L505.96,339.68 L507.28,339.80 L508.61,339.92 L509.93,340.03 L511.26,340.15 L512.58,340.26 L513.91,340.37 L515.23,340.47 L516.56,340.57 L517.88,340.67 L519.20,340.77 L520.53,340.87 L521.85,340.96 L523.18,341.05 L524.50,341.14 L525.83,341.22 L527.15,341.31 L528.47,341.39 L529.80,341.47 L531.12,341.55 L532.45,341.62 L533.77,341.70 L535.10,341.77 L536.42,341.84 L537.74,341.91 L539.07,341.97 L540.39,342.04 L541.72,342.10 L543.04,342.16 L544.37,342.22 L545.69,342.28 L547.01,342.34 L548.34,342.39 L549.66,342.44 L550.99,342.50 L552.31,342.55 L553.64,342.60 L554.96,342.65 L556.28,342.69 L557.61,342.74 L558.93,342.79 L560.26,342.83 L561.58,342.87 L562.91,342.91 L564.23,342.96 L565.55,343.00 L566.88,343.04 L568.20,343.08 L569.53,343.11 L570.85,343.15 L572.18,343.19 L573.50,343.22 L574.82,343.26 L576.15,343.30 L577.47,343.33 L578.80,343.36 L580.12,343.40 L581.45,343.43 L582.77,343.47 L584.09,343.50 L585.42,343.53 L586.74,343.56 L588.07,343.60 L589.39,343.63 L590.72,343.66 L592.04,343.70 L593.37,343.73 L594.69,343.76 L596.01,343.79 L597.34,343.83 L598.66,343.86 L599.99,343.90 L601.31,343.93 L602.64,343.96 L603.96,344.00 L605.28,344.03 L606.61,344.07 L607.93,344.11 L609.26,344.15 L610.58,344.18 L611.91,344.22 L613.23,344.26 L614.55,344.30 L615.88,344.34 L617.20,344.39 L618.53,344.43 L619.85,344.47 L621.18,344.52 L622.50,344.56" stroke="#00ff00" stroke-dasharray="9.1 4.22" stroke-dashoffset="1.9"/>
</g>
<g stroke="#666666" stroke-width="0.56" fill="none">
<rect x="82.5" y="24.5" width="540.0" height="333.5"/>
</g>
<g stroke="#666666" stroke-width="0.62" fill="none">
<path d="M94.10,358.0 v-3.4 M94.10,24.5 v3.4"/>
<path d="M122.82,358.0 v-2.0 M122.82,24.5 v2.0"/>
<path d="M151.55,358.0 v-2.0 M151.55,24.5 v2.0"/>
<path d="M180.28,358.0 v-2.0 M180.28,24.5 v2.0"/>
<path d="M209.00,358.0 v-3.4 M209.00,24.5 v3.4"/>
<path d="M237.72,358.0 v-2.0 M237.72,24.5 v2.0"/>
<path d="M266.45,358.0 v-2.0 M266.45,24.5 v2.0"/>
<path d="M295.18,358.0 v-2.0 M295.18,24.5 v2.0"/>
<path d="M323.90,358.0 v-3.4 M323.90,24.5 v3.4"/>
<path d="M352.62,358.0 v-2.0 M352.62,24.5 v2.0"/>
<path d="M381.35,358.0 v-2.0 M381.35,24.5 v2.0"/>
<path d="M410.08,358.0 v-2.0 M410.08,24.5 v2.0"/>
<path d="M438.80,358.0 v-3.4 M438.80,24.5 v3.4"/>
<path d="M467.52,358.0 v-2.0 M467.52,24.5 v2.0"/>
<path d="M496.25,358.0 v-2.0 M496.25,24.5 v2.0"/>
<path d="M524.98,358.0 v-2.0 M524.98,24.5 v2.0"/>
<path d="M553.70,358.0 v-3.4 M553.70,24.5 v3.4"/>
<path d="M582.43,358.0 v-2.0 M582.43,24.5 v2.0"/>
<path d="M611.15,358.0 v-2.0 M611.15,24.5 v2.0"/>
<path d="M82.5,345.50 h3.8 M622.5,345.50 h-3.8"/>
<path d="M82.5,332.64 h2.4 M622.5,332.64 h-2.4"/>
<path d="M82.5,319.78 h2.4 M622.5,319.78 h-2.4"/>
<path d="M82.5,306.92 h2.4 M622.5,306.92 h-2.4"/>
<path d="M82.5,294.06 h2.4 M622.5,294.06 h-2.4"/>
<path d="M82.5,281.20 h3.8 M622.5,281.20 h-3.8"/>
<path d="M82.5,268.34 h2.4 M622.5,268.34 h-2.4"/>
<path d="M82.5,255.48 h2.4 M622.5,255.48 h-2.4"/>
<path d="M82.5,242.62 h2.4 M622.5,242.62 h-2.4"/>
<path d="M82.5,229.76 h2.4 M622.5,229.76 h-2.4"/>
<path d="M82.5,216.90 h3.8 M622.5,216.90 h-3.8"/>
<path d="M82.5,204.04 h2.4 M622.5,204.04 h-2.4"/>
<path d="M82.5,191.18 h2.4 M622.5,191.18 h-2.4"/>
<path d="M82.5,178.32 h2.4 M622.5,178.32 h-2.4"/>
<path d="M82.5,165.46 h2.4 M622.5,165.46 h-2.4"/>
<path d="M82.5,152.60 h3.8 M622.5,152.60 h-3.8"/>
<path d="M82.5,139.74 h2.4 M622.5,139.74 h-2.4"/>
<path d="M82.5,126.88 h2.4 M622.5,126.88 h-2.4"/>
<path d="M82.5,114.02 h2.4 M622.5,114.02 h-2.4"/>
<path d="M82.5,101.16 h2.4 M622.5,101.16 h-2.4"/>
<path d="M82.5,88.30 h3.8 M622.5,88.30 h-3.8"/>
<path d="M82.5,75.44 h2.4 M622.5,75.44 h-2.4"/>
<path d="M82.5,62.58 h2.4 M622.5,62.58 h-2.4"/>
<path d="M82.5,49.72 h2.4 M622.5,49.72 h-2.4"/>
<path d="M82.5,36.86 h2.4 M622.5,36.86 h-2.4"/>
</g>
<g style="filter:grayscale(1)">
<g font-size="13.3" text-anchor="middle">
<text x="94.10" y="372.1">2</text>
<text x="209.00" y="372.1">4</text>
<text x="323.90" y="372.1">6</text>
<text x="438.80" y="372.1">8</text>
<text x="553.70" y="372.1">10</text>
</g>
<g font-size="13.1">
<text x="79.9" y="350.00" text-anchor="end">0</text>
<text y="285.90"><tspan x="30.4">1</tspan><tspan x="38.5">.</tspan><tspan x="44.6" dy="0.6" font-size="12.4">×</tspan><tspan x="54.7" dy="-0.6">10</tspan><tspan x="68.6" font-size="9.6" dy="-4.7">−7</tspan></text>
<text y="221.60"><tspan x="30.4">2</tspan><tspan x="38.5">.</tspan><tspan x="44.6" dy="0.6" font-size="12.4">×</tspan><tspan x="54.7" dy="-0.6">10</tspan><tspan x="68.6" font-size="9.6" dy="-4.7">−7</tspan></text>
<text y="157.30"><tspan x="30.4">3</tspan><tspan x="38.5">.</tspan><tspan x="44.6" dy="0.6" font-size="12.4">×</tspan><tspan x="54.7" dy="-0.6">10</tspan><tspan x="68.6" font-size="9.6" dy="-4.7">−7</tspan></text>
<text y="93.00"><tspan x="30.4">4</tspan><tspan x="38.5">.</tspan><tspan x="44.6" dy="0.6" font-size="12.4">×</tspan><tspan x="54.7" dy="-0.6">10</tspan><tspan x="68.6" font-size="9.6" dy="-4.7">−7</tspan></text>
<text y="28.70"><tspan x="30.4">5</tspan><tspan x="38.5">.</tspan><tspan x="44.6" dy="0.6" font-size="12.4">×</tspan><tspan x="54.7" dy="-0.6">10</tspan><tspan x="68.6" font-size="9.6" dy="-4.7">−7</tspan></text>
</g>
<text x="352.2" y="394.3" font-size="14.9" text-anchor="middle">Number or rungs n</text>
<text transform="translate(4.2,182.2) scale(0.98,1.06)" font-size="14.8">d<tspan font-style="italic" dx="-1.2">ƒ</tspan></text>
<rect x="3" y="188.3" width="19.2" height="1.25" fill="#000"/>
<text transform="translate(3.6,209.1) scale(0.97,1.06)" font-size="14.8">dn</text>
<text y="14.2" font-size="14.8"><tspan x="319.6">q</tspan><tspan class="ser" x="333.6">=</tspan><tspan class="ser" x="346.4" font-size="14.8">(31, 0)</tspan></text>
</g>
<g fill="none" stroke-width="1.6">
<path d="M496.2,72.7 H546.2" stroke="#0000ff"/>
<path d="M496.2,98.5 H546.2" stroke="#000000" stroke-dasharray="15.3 11.7"/>
<path d="M496.2,124.5 H546.2" stroke="#996633" stroke-dasharray="6.3 3.7 6.6 0.7 7 0.9 8.6 2.9 6.4 0.7 6.2 4"/>
<path d="M496.2,150.2 H546.2" stroke="#ff0000" stroke-dasharray="15.1 4.9 8.9 11.3 8.8 4.5"/>
<path d="M496.2,175.7 H546.2" stroke="#00ff00" stroke-dasharray="9.1 4.3"/>
</g>
<g font-size="12.6" style="filter:grayscale(1)">
<text x="553.8" y="76.20">Y=1</text>
<text x="553.8" y="102.00">Y=1.5</text>
<text x="553.8" y="128.00">Y=2</text>
<text x="553.8" y="153.30">Y=2.5</text>
<text x="553.8" y="179.20">Y=3</text>
</g>
</svg>
</body></html>
